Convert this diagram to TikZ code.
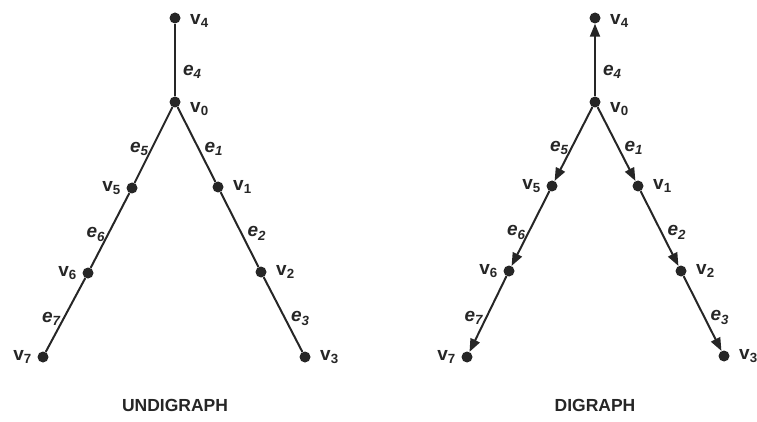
\documentclass[tikz,border=0pt]{standalone}
\usepackage{fontspec}
\setmainfont{Liberation Sans}
\usetikzlibrary{arrows.meta}

\tikzset{
  dot/.style={circle, fill=black!85, minimum size=11pt, inner sep=0pt},
  edge/.style={line width=2pt, black!85},
  arc/.style={edge, -{Triangle[length=13pt,width=10pt]}},
  vlab/.style={font=\fontsize{19}{21}\selectfont\bfseries, label distance=2pt, text=black!85},
  vlabr/.style={vlab, label distance=6pt},
  elab/.style={font=\fontsize{19}{21}\selectfont\bfseries\itshape, inner sep=4pt, yshift=-4pt, text=black!85},
  elabr/.style={elab, xshift=3pt},
  title/.style={font=\fontsize{17.5}{20}\selectfont\bfseries, text=black!85}
}

\begin{document}
\begin{tikzpicture}[x=1pt, y=-1pt]
    \useasboundingbox (0,0) rectangle (757,422);

    % Undirected graph
    \node[dot, label={[vlabr, yshift=-3pt]right:{v\textsubscript{4}}}] (a4) at (175,18) {};
    \node[dot, label={[vlabr, yshift=-7pt]right:{v\textsubscript{0}}}] (a0) at (175,102) {};
    \node[dot, label={[vlabr]right:{v\textsubscript{1}}}] (a1) at (218,187) {};
    \node[dot, label={[vlabr]right:{v\textsubscript{2}}}] (a2) at (261,272) {};
    \node[dot, label={[vlabr]right:{v\textsubscript{3}}}] (a3) at (305,357) {};
    \node[dot, label={[vlab]left:{v\textsubscript{5}}}] (a5) at (132,188) {};
    \node[dot, label={[vlab]left:{v\textsubscript{6}}}] (a6) at (88,273) {};
    \node[dot, label={[vlab]left:{v\textsubscript{7}}}] (a7) at (43,357) {};

    \draw[edge] (a0) -- (a4) node[elabr, midway, right, yshift=-8pt] {e\textsubscript{4}};
    \draw[edge] (a0) -- (a1) node[elabr, midway, right] {e\textsubscript{1}};
    \draw[edge] (a1) -- (a2) node[elabr, midway, right] {e\textsubscript{2}};
    \draw[edge] (a2) -- (a3) node[elabr, midway, right] {e\textsubscript{3}};
    \draw[edge] (a0) -- (a5) node[elab, midway, left] {e\textsubscript{5}};
    \draw[edge] (a5) -- (a6) node[elab, midway, left] {e\textsubscript{6}};
    \draw[edge] (a6) -- (a7) node[elab, midway, left] {e\textsubscript{7}};

    % Directed graph
    \node[dot, label={[vlabr, yshift=-3pt]right:{v\textsubscript{4}}}] (b4) at (595,18) {};
    \node[dot, label={[vlabr, yshift=-7pt]right:{v\textsubscript{0}}}] (b0) at (595,102) {};
    \node[dot, label={[vlabr]right:{v\textsubscript{1}}}] (b1) at (638,186) {};
    \node[dot, label={[vlabr]right:{v\textsubscript{2}}}] (b2) at (681,271) {};
    \node[dot, label={[vlabr]right:{v\textsubscript{3}}}] (b3) at (724,356) {};
    \node[dot, label={[vlab]left:{v\textsubscript{5}}}] (b5) at (552,186) {};
    \node[dot, label={[vlab]left:{v\textsubscript{6}}}] (b6) at (509,271) {};
    \node[dot, label={[vlab]left:{v\textsubscript{7}}}] (b7) at (467,357) {};

    \draw[arc] (b0) -- (b4) node[elabr, midway, right, yshift=-8pt] {e\textsubscript{4}};
    \draw[arc] (b0) -- (b1) node[elabr, midway, right] {e\textsubscript{1}};
    \draw[arc] (b1) -- (b2) node[elabr, midway, right] {e\textsubscript{2}};
    \draw[arc] (b2) -- (b3) node[elabr, midway, right] {e\textsubscript{3}};
    \draw[arc] (b0) -- (b5) node[elab, midway, left] {e\textsubscript{5}};
    \draw[arc] (b5) -- (b6) node[elab, midway, left] {e\textsubscript{6}};
    \draw[arc] (b6) -- (b7) node[elab, midway, left] {e\textsubscript{7}};

    % Titles
    \node[title] (undi) at (175,405) {UNDIGRAPH};
    \node[title] (di) at (595,405) {DIGRAPH};
\end{tikzpicture}
\end{document}
